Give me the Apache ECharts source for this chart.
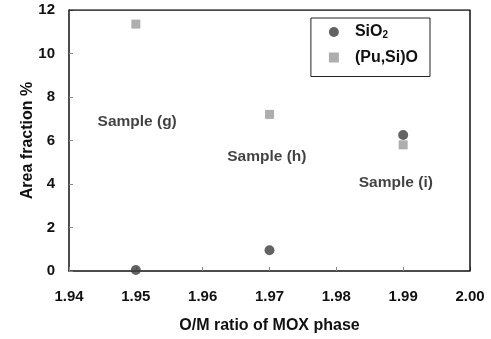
<!DOCTYPE html>
<html>
<head>
<meta charset="utf-8">
<script src="https://cdn.jsdelivr.net/npm/echarts@6/dist/echarts.min.js"></script>
<style>
  html, body { margin: 0; padding: 0; background: #fff; }
  #chart { width: 491px; height: 339px; }
</style>
</head>
<body>
<div id="chart"></div>
<script>
const sio2 = [[1.95, 0.05], [1.97, 0.95], [1.99, 6.25]];
const pusio = [[1.95, 11.35], [1.97, 7.2], [1.99, 5.8]];
const sampleNames = ["Sample (g)", "Sample (h)", "Sample (i)"];
const samplePos = [[1.9502, 6.85], [1.9696, 5.25], [1.9889, 4.05]];

const font = "Liberation Sans, Arial, sans-serif";
const chart = echarts.init(document.getElementById("chart"));
chart.setOption({
  animation: false,
  grid: { left: 69, right: 21, top: 10, bottom: 66 },
  legend: {
    right: 61,
    top: 18,
    orient: "vertical",
    itemGap: 9,
    padding: [6, 12, 11, 18],
    borderColor: "#222",
    borderWidth: 1,
    itemWidth: 10,
    itemHeight: 10,
    textStyle: {
      fontFamily: font, fontWeight: "bold", fontSize: 16, color: "#111",
      padding: [0, 0, 0, 11],
      rich: { sub: { fontFamily: font, fontWeight: "bold", fontSize: 10, color: "#111", verticalAlign: "bottom", padding: [7, 0, 0, 0] } }
    },
    formatter: (n) => n === "SiO2" ? "SiO{sub|2}" : n,
    data: ["SiO2", "(Pu,Si)O"]
  },
  xAxis: {
    type: "value",
    min: 1.94, max: 2.0, interval: 0.01,
    name: "O/M ratio of MOX phase",
    nameLocation: "middle",
    nameGap: 47,
    nameMoveOverlap: false,
    nameTextStyle: { fontFamily: font, fontWeight: "bold", fontSize: 16, color: "#111" },
    axisLine: { lineStyle: { color: "#111", width: 1.5 } },
    axisTick: { inside: true, length: 4, lineStyle: { color: "#888" } },
    axisLabel: { fontFamily: font, fontWeight: "bold", fontSize: 15, color: "#111", margin: 18,
      formatter: (v) => v.toFixed(2) },
    splitLine: { show: false }
  },
  yAxis: {
    type: "value",
    min: 0, max: 12, interval: 2,
    name: "Area fraction %",
    nameLocation: "middle",
    nameGap: 33,
    nameMoveOverlap: false,
    nameTextStyle: { fontFamily: font, fontWeight: "bold", fontSize: 16, color: "#111" },
    axisLine: { lineStyle: { color: "#111", width: 1.5 } },
    axisTick: { inside: true, length: 4, lineStyle: { color: "#888" } },
    axisLabel: { fontFamily: font, fontWeight: "bold", fontSize: 15, color: "#111", margin: 14 },
    splitLine: { show: false }
  },
  series: [
    {
      name: "SiO2", type: "scatter", symbol: "circle", symbolSize: 10,
      itemStyle: { color: "#3c3c3c" }, data: sio2, z: 3
    },
    {
      name: "(Pu,Si)O", type: "scatter", symbol: "rect", symbolSize: 9,
      itemStyle: { color: "#9a9a9a" }, data: pusio, z: 2
    },
    {
      name: "labels", type: "scatter", symbolSize: 0, silent: true,
      data: samplePos.map((p, i) => ({ value: p, name: sampleNames[i] })),
      label: { show: true, position: "inside", formatter: (p) => p.name,
        fontFamily: font, fontWeight: "bold", fontSize: 15.5, color: "#111" }
    },
    {
      type: "line", silent: true, symbol: "none",
      data: [[1.94, 12], [2.0, 12], [2.0, 0]],
      lineStyle: { color: "#111", width: 1.5 }
    }
  ]
});
</script>
</body>
</html>
